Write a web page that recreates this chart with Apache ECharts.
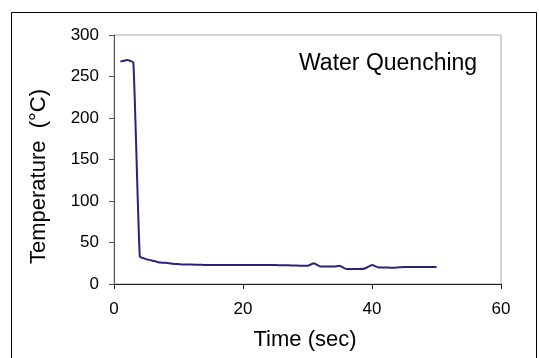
<!DOCTYPE html>
<html>
<head>
<meta charset="utf-8">
<script src="https://cdn.jsdelivr.net/npm/echarts@6/dist/echarts.min.js"></script>
<style>
html,body{margin:0;padding:0;background:#fff;}
#c{width:539px;height:358px;}
</style>
</head>
<body>
<div id="c"></div>
<script>
var timeSec = [1,2,3,4,5,6,7,8,9,10,11,12,13,14,15,16,17,18,19,20,21,22,23,24,25,26,27,28,29,30,31,32,33,34,35,36,37,38,39,40,41,42,43,44,45,46,47,48,49,50];
var temperature = [268,270,267,33,30,28,26,25.5,24.5,24,23.5,23.5,23.2,23,23,23,23,23,23,23,23,23,23,22.8,22.8,22.6,22.5,22.3,22,22,25,21,21,21,22,18,18,18,19,23,20,20,19.5,20,20.5,20.5,20.5,20.5,20.5,20.5];
var yTicks = [0,50,100,150,200,250,300];
var xTicks = [0,20,40,60];
var titleText = 'Water Quenching';
var xName = 'Time (sec)';
var yName = 'Temperature  (\u00B0C)';

var pts = timeSec.map(function(t,i){return [t, temperature[i]];});
var FONT = '"Liberation Sans", Arial, sans-serif';
var chart = echarts.init(document.getElementById('c'), null, {renderer:'canvas'});
chart.setOption({
  animation:false,
  backgroundColor:'#fff',
  grid:{left:114, right:38, top:35, bottom:74, show:true, borderColor:'#a8a8a8', borderWidth:1, backgroundColor:'transparent'},
  xAxis:{type:'value', min:xTicks[0], max:xTicks[xTicks.length-1], interval:20,
    axisLine:{show:true, onZero:false, lineStyle:{color:'#222', width:1}},
    axisTick:{show:true, inside:false, length:5, lineStyle:{color:'#222'}},
    axisLabel:{color:'#000', fontSize:17, fontFamily:FONT, margin:17},
    splitLine:{show:false}},
  yAxis:{type:'value', min:yTicks[0], max:yTicks[yTicks.length-1], interval:50,
    axisLine:{show:true, lineStyle:{color:'#555', width:1}},
    axisTick:{show:true, inside:false, length:5, lineStyle:{color:'#555'}},
    axisLabel:{color:'#000', fontSize:17, fontFamily:FONT, margin:15},
    splitLine:{show:false}},
  series:[{type:'line', data:pts, showSymbol:false, symbol:'none',
    lineStyle:{color:'#25257b', width:2}, smooth:0.12}],
  graphic:[
    {type:'rect', shape:{x:11.5, y:12.5, width:525, height:360}, style:{fill:'none', stroke:'#000', lineWidth:1}, silent:true},
    {type:'text', x:299, y:63.5, style:{text:titleText, fontSize:23, fontFamily:FONT, fill:'#000', textAlign:'left', textVerticalAlign:'middle'}},
    {type:'text', x:305, y:340, style:{text:xName, fontSize:22, fontFamily:FONT, fill:'#000', textAlign:'center', textVerticalAlign:'middle'}},
    {type:'text', x:39, y:176.5, rotation:Math.PI/2, style:{text:yName, fontSize:22, fontFamily:FONT, fill:'#000', textAlign:'center', textVerticalAlign:'middle'}}
  ]
});
</script>
</body>
</html>
